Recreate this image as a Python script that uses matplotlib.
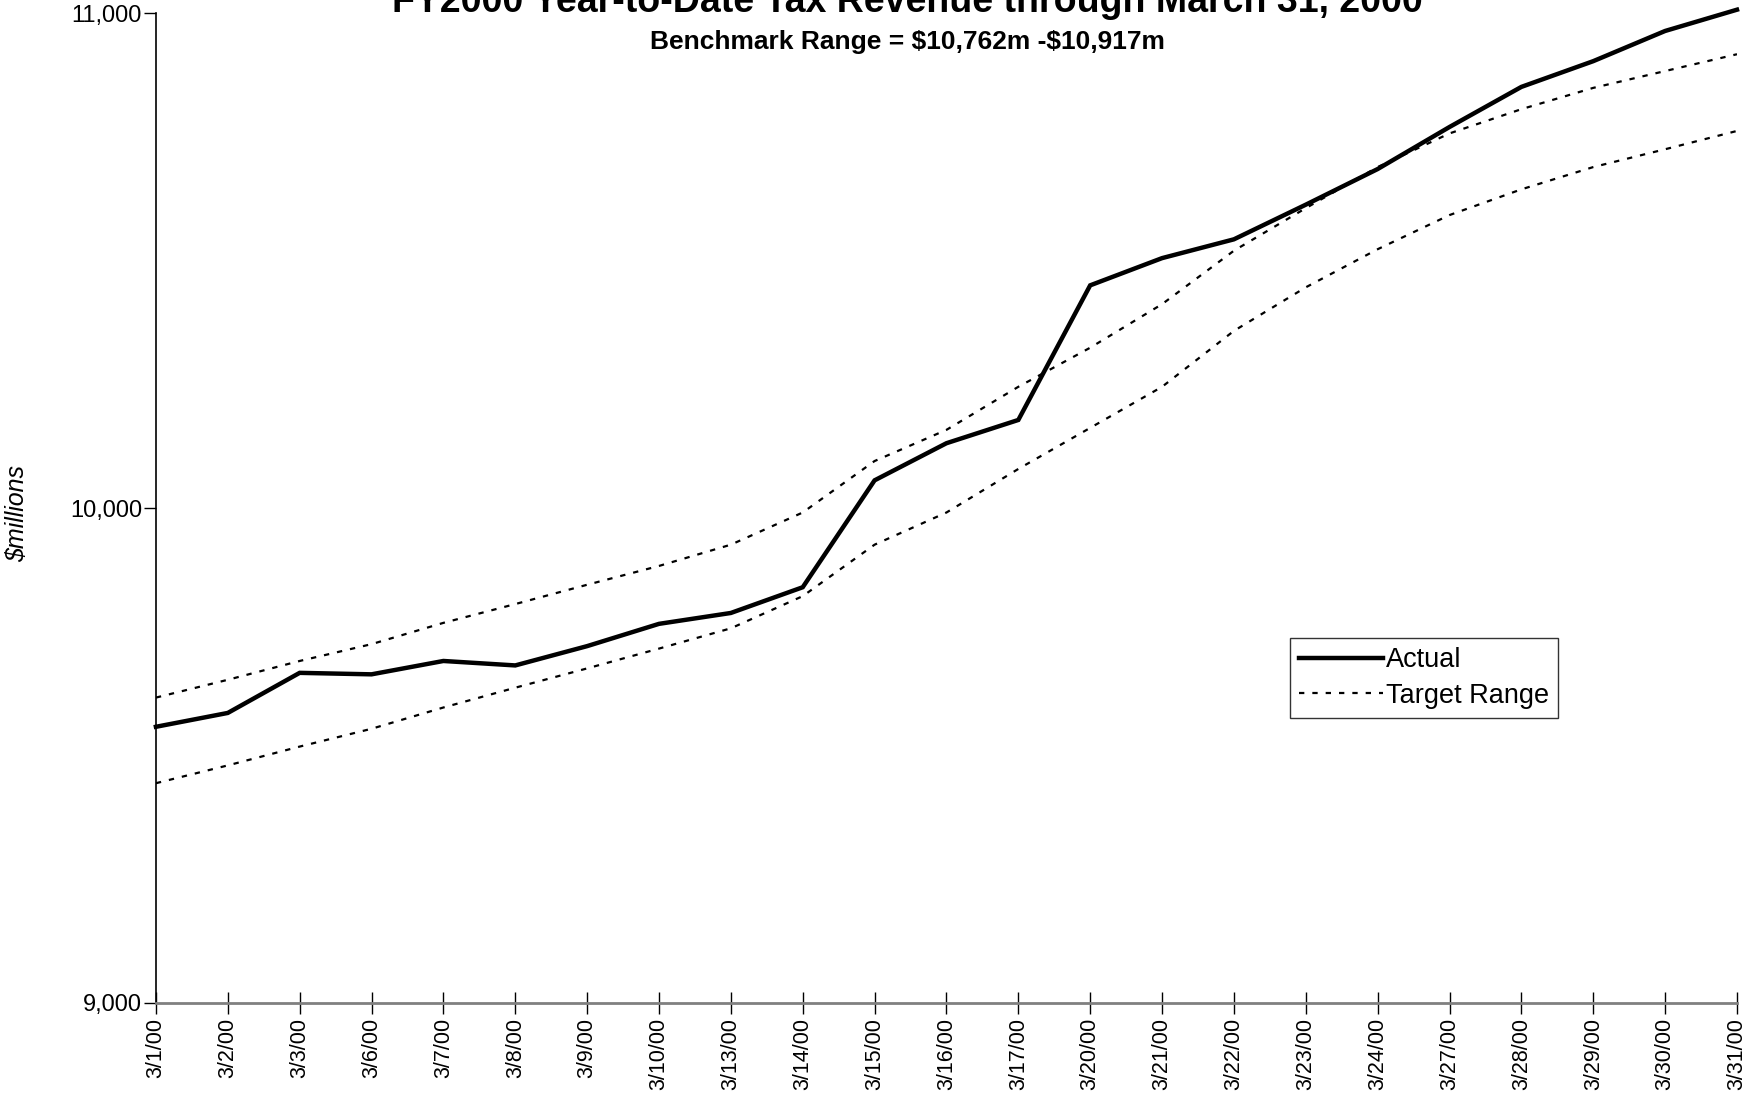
import matplotlib
matplotlib.use('Agg')
import matplotlib.pyplot as plt

plt.rcParams['font.family'] = ['Liberation Sans', 'DejaVu Sans']

dates = ['3/1/00', '3/2/00', '3/3/00', '3/6/00', '3/7/00', '3/8/00', '3/9/00',
         '3/10/00', '3/13/00', '3/14/00', '3/15/00', '3/16/00', '3/17/00',
         '3/20/00', '3/21/00', '3/22/00', '3/23/00', '3/24/00', '3/27/00',
         '3/28/00', '3/29/00', '3/30/00', '3/31/00']

actual = [9558, 9586, 9667, 9664, 9691, 9682, 9721, 9766, 9788, 9840,
          10056, 10131, 10178, 10450, 10505, 10543, 10613, 10685, 10770,
          10851, 10903, 10964, 11007]

target_high = [9617, 9653, 9691, 9725, 9768, 9806, 9845, 9883, 9926, 9991,
               10095, 10158, 10245, 10324, 10412, 10520, 10606, 10689, 10757,
               10806, 10849, 10883, 10917]

target_low = [9444, 9480, 9518, 9554, 9597, 9637, 9676, 9716, 9757, 9822,
              9926, 9991, 10079, 10162, 10245, 10358, 10446, 10523, 10592,
              10644, 10689, 10725, 10762]

y_ticks = [9000, 10000, 11000]

fig = plt.figure(figsize=(17.48, 10.96), dpi=100)
ax = fig.add_axes([0.0892, 0.0849, 0.9045, 0.9031])

x = list(range(len(dates)))
ax.plot(x, actual, color='black', lw=3.2, label='Actual', clip_on=False,
        solid_joinstyle='miter', zorder=3)
ax.plot(x, target_high, color='black', lw=1.6, dashes=(2.4, 3.6),
        label='Target Range', zorder=2)
ax.plot(x, target_low, color='black', lw=1.6, dashes=(2.4, 3.6), zorder=2)

ax.set_xlim(0, len(dates) - 1)
ax.set_ylim(9000, 11000)
ax.set_xticks(x)
ax.set_xticklabels(dates, rotation=90, fontsize=15.5)
ax.set_yticks(y_ticks)
ax.set_yticklabels(['{:,}'.format(v) for v in y_ticks], fontsize=17)

ax.tick_params(axis='x', direction='inout', length=16, width=1,
               color='black', pad=3)
ax.tick_params(axis='y', direction='out', length=9, width=1, pad=1)

for s in ['top', 'right']:
    ax.spines[s].set_visible(False)
ax.spines['left'].set_color('black')
ax.spines['left'].set_linewidth(1.2)
ax.spines['bottom'].set_color('#808080')
ax.spines['bottom'].set_linewidth(2)

fig.text(17 / 1748, 1 - 513 / 1096, r'\$millions', fontsize=18, style='italic',
         rotation=90, ha='center', va='center')

leg = ax.legend(loc='upper left', bbox_to_anchor=(0.717, 0.369),
                borderaxespad=0, fontsize=19.5, frameon=True, fancybox=False,
                edgecolor='black', handlelength=3.1, handletextpad=0.1,
                borderpad=0.35, labelspacing=0.35)
leg.get_frame().set_linewidth(1)

fig.text(0.519, 1 - 12 / 1096, 'FY2000 Year-to-Date Tax Revenue through March 31, 2000',
         ha='center', va='baseline', fontsize=27, fontweight='bold')
fig.text(0.519, 1 - 49 / 1096, r'Benchmark Range = \$10,762m -\$10,917m',
         ha='center', va='baseline', fontsize=19, fontweight='bold')

fig.savefig('out.png', dpi=100)
